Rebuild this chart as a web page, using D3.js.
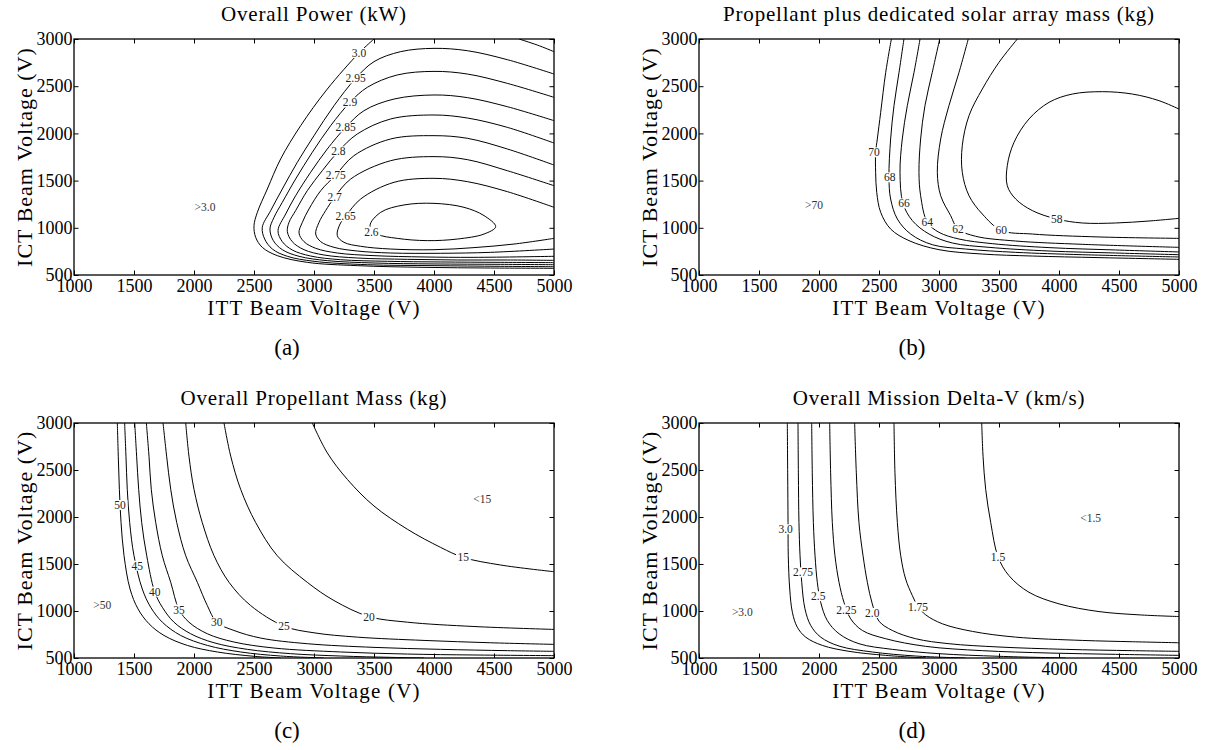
<!DOCTYPE html>
<html>
<head>
<meta charset="utf-8">
<script src="https://cdn.jsdelivr.net/npm/d3@7"></script>
<style>
body{margin:0;background:#fff;}
text{font-family:"Liberation Serif","Times New Roman",serif;fill:#000;}
.clab{font-size:11.5px;fill:#222;}
.note{font-size:11.5px;fill:#333;}
</style>
</head>
<body>
<svg id="chart" width="1210" height="750"></svg>
<script>
// axis ticks shared by all four panels
var xTicks = [1000,1500,2000,2500,3000,3500,4000,4500,5000];
var yTicks = [500,1000,1500,2000,2500,3000];

// (a) Overall Power (kW) - contour lines, [ITT V, ICT V]
var powerContours = [
	{level:'3.0', pts:[[3500,3000],[3375,2852],[3111,2470],[2889,2082],[2722,1729],[2611,1411],[2528,1164],[2500,1023],[2514,899],[2569,793],[2694,705],[2944,634],[3361,599],[3917,581],[4472,574],[5000,571]]},
	{level:'3.0', pts:[[4708,3000],[4861,2936],[5000,2866]]},
	{level:'2.95', pts:[[5000,2629],[4611,2781],[4278,2876],[4000,2901],[3722,2866],[3500,2760],[3347,2583],[3167,2294],[3000,1976],[2861,1694],[2736,1411],[2639,1182],[2569,1005],[2589,881],[2653,775],[2778,698],[3000,645],[3444,609],[4000,599],[4556,592],[5000,588]]},
	{level:'2.9', pts:[[5000,2382],[4611,2530],[4278,2629],[4000,2657],[3694,2619],[3444,2488],[3300,2329],[3139,2082],[2986,1800],[2847,1517],[2736,1270],[2667,1111],[2633,987],[2661,864],[2736,768],[2875,698],[3111,652],[3500,627],[4000,617],[4556,613],[5000,609]]},
	{level:'2.85', pts:[[5000,2135],[4611,2283],[4278,2379],[4000,2407],[3667,2364],[3417,2241],[3264,2064],[3111,1835],[2972,1588],[2847,1340],[2764,1146],[2700,970],[2736,853],[2819,765],[2972,701],[3222,662],[3611,645],[4056,638],[4556,634],[5000,631]]},
	{level:'2.8', pts:[[5000,1898],[4611,2064],[4278,2163],[4000,2195],[3639,2153],[3361,1994],[3203,1810],[3069,1605],[2944,1393],[2847,1182],[2792,1058],[2778,959],[2819,853],[2917,768],[3083,712],[3361,680],[3778,666],[4194,659],[4611,659],[5000,655]]},
	{level:'2.75', pts:[[5000,1665],[4611,1835],[4278,1948],[4000,1976],[3639,1941],[3333,1764],[3181,1559],[3056,1393],[2958,1199],[2903,1058],[2875,945],[2917,853],[3014,783],[3194,733],[3500,705],[3917,691],[4333,687],[5000,698]]},
	{level:'2.7', pts:[[5000,1446],[4611,1605],[4278,1722],[4000,1754],[3639,1711],[3306,1517],[3172,1323],[3097,1182],[3042,1058],[3014,934],[3056,853],[3167,793],[3361,754],[3639,733],[4056,730],[4472,740],[5000,775]]},
	{level:'2.65', pts:[[5000,1217],[4611,1383],[4278,1489],[4000,1524],[3667,1482],[3389,1305],[3264,1122],[3217,1040],[3194,917],[3250,846],[3389,804],[3639,775],[4000,768],[4333,790],[4667,828],[5000,888]]},
	{level:'2.6', closed:true, pts:[[3467,1023],[3556,1164],[3750,1242],[4000,1259],[4250,1217],[4417,1129],[4514,1012],[4417,934],[4194,881],[3944,864],[3694,888],[3528,934]]}
];
var powerLabels = [[3375,2852,'3.0'],[3347,2583,'2.95'],[3300,2329,'2.9'],[3264,2064,'2.85'],[3203,1810,'2.8'],[3181,1559,'2.75'],[3172,1323,'2.7'],[3264,1122,'2.65'],[3478,959,'2.6']];
var powerNotes = [[2092,1224,'>3.0']];

// (b) Propellant plus dedicated solar array mass (kg)
var massContours = [
	{level:'70', pts:[[2603,3000],[2556,2647],[2514,2223],[2486,1941],[2472,1800],[2472,1588],[2481,1376],[2514,1164],[2597,987],[2750,864],[3000,768],[3361,722],[3778,701],[4333,684],[5000,666]]},
	{level:'68', pts:[[2708,3000],[2667,2647],[2625,2294],[2597,1941],[2583,1535],[2597,1305],[2653,1093],[2764,934],[2944,821],[3222,775],[3639,740],[4194,715],[5000,691]]},
	{level:'66', pts:[[2842,3000],[2792,2647],[2736,2294],[2694,1941],[2675,1588],[2700,1259],[2778,1076],[2917,934],[3111,839],[3417,793],[3917,754],[4472,733],[5000,715]]},
	{level:'64', pts:[[3006,3000],[2944,2647],[2883,2294],[2847,1941],[2833,1588],[2847,1340],[2903,1058],[3000,952],[3167,881],[3444,832],[3917,790],[4472,765],[5000,744]]},
	{level:'62', pts:[[3244,3000],[3167,2647],[3083,2294],[3014,1941],[2986,1588],[3014,1340],[3097,1129],[3158,987],[3306,910],[3639,860],[4194,825],[5000,793]]},
	{level:'60', pts:[[3653,3000],[3500,2753],[3361,2470],[3250,2188],[3194,1870],[3194,1588],[3250,1340],[3361,1146],[3519,973],[3778,934],[4333,903],[5000,888]]},
	{level:'58', pts:[[5000,2258],[4833,2347],[4611,2417],[4361,2442],[4111,2417],[3917,2329],[3750,2153],[3625,1905],[3569,1658],[3569,1446],[3639,1305],[3778,1182],[3981,1093],[4194,1051],[4472,1051],[4750,1072],[5000,1100]]}
];
var massLabels = [[2458,1800,'70'],[2589,1535,'68'],[2708,1259,'66'],[2903,1058,'64'],[3158,987,'62'],[3519,973,'60'],[3981,1093,'58']];
var massNotes = [[1958,1245,'>70']];

// (c) Overall Propellant Mass (kg)
var propContours = [
	{level:'50', pts:[[1361,3000],[1369,2647],[1378,2294],[1392,1941],[1417,1588],[1467,1234],[1533,1023],[1625,864],[1750,740],[1944,634],[2194,564],[2500,518],[2722,500]]},
	{level:'45', pts:[[1422,3000],[1433,2647],[1444,2294],[1464,1941],[1500,1588],[1569,1234],[1639,1040],[1736,881],[1889,740],[2111,634],[2389,564],[2722,521],[3083,500]]},
	{level:'40', pts:[[1506,3000],[1522,2647],[1539,2294],[1564,1941],[1606,1588],[1672,1206],[1736,1040],[1833,881],[1972,758],[2167,662],[2444,592],[2806,546],[3222,521],[3639,507],[3917,500]]},
	{level:'35', pts:[[1603,3000],[1625,2647],[1644,2294],[1681,1941],[1736,1588],[1806,1305],[1875,1016],[1958,881],[2111,758],[2333,670],[2667,606],[3222,564],[3778,542],[4333,532],[5000,525]]},
	{level:'30', pts:[[1742,3000],[1772,2647],[1806,2294],[1856,1941],[1931,1588],[2028,1305],[2111,1058],[2189,881],[2333,793],[2556,712],[2944,652],[3500,613],[4056,592],[4611,578],[5000,571]]},
	{level:'25', pts:[[1931,3000],[1958,2647],[2000,2294],[2069,1941],[2167,1588],[2292,1305],[2472,1058],[2750,839],[3000,768],[3361,722],[3917,687],[4472,662],[5000,645]]},
	{level:'20', pts:[[2250,3000],[2306,2647],[2389,2294],[2514,1941],[2694,1588],[2944,1305],[3167,1111],[3458,941],[3778,881],[4333,835],[5000,804]]},
	{level:'15', pts:[[2986,3000],[3111,2682],[3278,2400],[3500,2117],[3778,1870],[4056,1676],[4244,1570],[4556,1489],[5000,1418]]}
];
var propLabels = [[1383,2128,'50'],[1528,1482,'45'],[1672,1206,'40'],[1875,1016,'35'],[2189,881,'30'],[2750,839,'25'],[3458,941,'20'],[4244,1570,'15']];
var propNotes = [[1236,1065,'>50'],[4403,2195,'<15']];

// (d) Overall Mission Delta-V (km/s)
var dvContours = [
	{level:'3.0', pts:[[1736,3000],[1739,2470],[1742,1941],[1744,1588],[1756,1234],[1778,987],[1819,828],[1889,722],[2028,634],[2250,571],[2556,528],[2889,500]]},
	{level:'2.75', pts:[[1825,3000],[1828,2470],[1833,1941],[1842,1588],[1856,1305],[1883,1023],[1931,846],[2014,722],[2167,627],[2444,564],[2806,521],[3222,500]]},
	{level:'2.5', pts:[[1939,3000],[1944,2470],[1953,1941],[1967,1588],[1986,1305],[2014,1093],[2069,899],[2167,758],[2333,652],[2611,592],[3000,546],[3500,518],[4056,500]]},
	{level:'2.25', pts:[[2089,3000],[2097,2470],[2111,1941],[2133,1588],[2167,1305],[2208,1093],[2264,917],[2361,793],[2556,705],[2889,624],[3361,578],[3917,553],[4472,539],[5000,528]]},
	{level:'2.0', pts:[[2297,3000],[2311,2470],[2333,1941],[2367,1588],[2403,1305],[2444,1076],[2500,892],[2611,793],[2806,705],[3083,652],[3500,617],[4056,592],[4611,578],[5000,571]]},
	{level:'1.75', pts:[[2625,3000],[2633,2470],[2653,1941],[2681,1588],[2722,1340],[2778,1164],[2825,1047],[2889,959],[3028,864],[3278,783],[3639,722],[4194,687],[4611,673],[5000,662]]},
	{level:'1.5', pts:[[3356,3000],[3367,2647],[3389,2294],[3431,1941],[3492,1577],[3583,1376],[3750,1199],[4000,1076],[4333,994],[4667,959],[5000,941]]}
];
var dvLabels = [[1722,1870,'3.0'],[1867,1411,'2.75'],[1994,1157,'2.5'],[2228,1016,'2.25'],[2444,980,'2.0'],[2825,1047,'1.75'],[3492,1577,'1.5']];
var dvNotes = [[1361,987,'>3.0'],[4264,1987,'<1.5']];

var svg = d3.select('#chart');
var W = 480;
var fontFam = '"Liberation Serif","Times New Roman",serif';

drawPanel = function(id, left, top, h, title, letter, contours, labels, notes){
	var g = svg.append('g')
		.attr('id', id)
		.attr('transform', 'translate(' + left + ',' + top + ')');
	var x = d3.scaleLinear().domain([1000, 5000]).range([0, W]);
	var y = d3.scaleLinear().domain([500, 3000]).range([h, 0]);

	g.append('clipPath')
		.attr('id', id + 'Clip')
		.append('rect')
		.attr('width', W)
		.attr('height', h);

	var line = d3.line()
		.x(function(d){ return x(d[0]); })
		.y(function(d){ return y(d[1]); })
		.curve(d3.curveCatmullRom.alpha(0.5));
	var loop = d3.line()
		.x(function(d){ return x(d[0]); })
		.y(function(d){ return y(d[1]); })
		.curve(d3.curveCatmullRomClosed.alpha(0.5));

	g.append('g')
		.attr('clip-path', 'url(#' + id + 'Clip)')
		.selectAll('path')
		.data(contours)
		.enter()
		.append('path')
		.attr('class', 'contour')
		.attr('d', function(d){ return d.closed ? loop(d.pts) : line(d.pts); })
		.attr('fill', 'none')
		.attr('stroke', '#000')
		.attr('stroke-width', 1);

	// inline contour labels, with a white gap behind them
	var lab = g.append('g')
		.selectAll('g')
		.data(labels)
		.enter()
		.append('g')
		.attr('transform', function(d){ return 'translate(' + x(d[0]) + ',' + y(d[1]) + ')'; });
	lab.append('text')
		.attr('class', 'clab')
		.attr('text-anchor', 'middle')
		.attr('dy', '0.35em')
		.text(function(d){ return d[2]; });
	lab.each(function(){
		var t = d3.select(this).select('text');
		var b = t.node().getBBox();
		d3.select(this).insert('rect', 'text')
			.attr('x', b.x - 1.5)
			.attr('y', b.y + 1)
			.attr('width', b.width + 3)
			.attr('height', b.height - 2)
			.attr('fill', '#fff');
	});

	g.append('g')
		.selectAll('text')
		.data(notes)
		.enter()
		.append('text')
		.attr('class', 'note')
		.attr('text-anchor', 'middle')
		.attr('dy', '0.35em')
		.attr('x', function(d){ return x(d[0]); })
		.attr('y', function(d){ return y(d[1]); })
		.text(function(d){ return d[2]; });

	// axes, ticks pointing inward on all four sides
	var xb = g.append('g')
		.attr('transform', 'translate(0,' + h + ')')
		.call(d3.axisBottom(x).tickValues(xTicks).tickSizeInner(-4.5).tickSizeOuter(0).tickPadding(4).tickFormat(d3.format('d')));
	var yl = g.append('g')
		.call(d3.axisLeft(y).tickValues(yTicks).tickSizeInner(-4.5).tickSizeOuter(0).tickPadding(1.5).tickFormat(d3.format('d')));
	g.append('g')
		.call(d3.axisTop(x).tickValues(xTicks).tickSizeInner(-4.5).tickSizeOuter(0).tickFormat(''));
	g.append('g')
		.attr('transform', 'translate(' + W + ',0)')
		.call(d3.axisRight(y).tickValues(yTicks).tickSizeInner(-4.5).tickSizeOuter(0).tickFormat(''));
	g.selectAll('.domain').remove();
	[xb, yl].forEach(function(a){
		a.attr('font-family', fontFam).attr('font-size', 18);
		a.selectAll('text').attr('fill', '#000');
	});

	g.append('rect')
		.attr('width', W)
		.attr('height', h)
		.attr('fill', 'none')
		.attr('stroke', '#000')
		.attr('stroke-width', 1.3);

	g.append('text')
		.attr('x', W / 2)
		.attr('y', -18)
		.attr('text-anchor', 'middle')
		.attr('font-size', 21)
		.attr('letter-spacing', 0.8)
		.text(title);
	g.append('text')
		.attr('x', W / 2)
		.attr('y', h + 40)
		.attr('text-anchor', 'middle')
		.attr('font-size', 21)
		.attr('letter-spacing', 1.2)
		.text('ITT Beam Voltage (V)');
	g.append('text')
		.attr('transform', 'translate(-42,' + (h / 2) + ') rotate(-90)')
		.attr('text-anchor', 'middle')
		.attr('font-size', 22)
		.attr('letter-spacing', 1)
		.text('ICT Beam Voltage (V)');
	g.append('text')
		.attr('x', W / 2 - 27)
		.attr('y', h + 80)
		.attr('text-anchor', 'middle')
		.attr('font-size', 23)
		.text(letter);
};

drawPanel('panelA', 74, 39, 236, 'Overall Power (kW)', '(a)', powerContours, powerLabels, powerNotes);
drawPanel('panelB', 699, 39, 236, 'Propellant plus dedicated solar array mass (kg)', '(b)', massContours, massLabels, massNotes);
drawPanel('panelC', 74, 423, 235, 'Overall Propellant Mass (kg)', '(c)', propContours, propLabels, propNotes);
drawPanel('panelD', 699, 423, 235, 'Overall Mission Delta-V (km/s)', '(d)', dvContours, dvLabels, dvNotes);
</script>
</body>
</html>
